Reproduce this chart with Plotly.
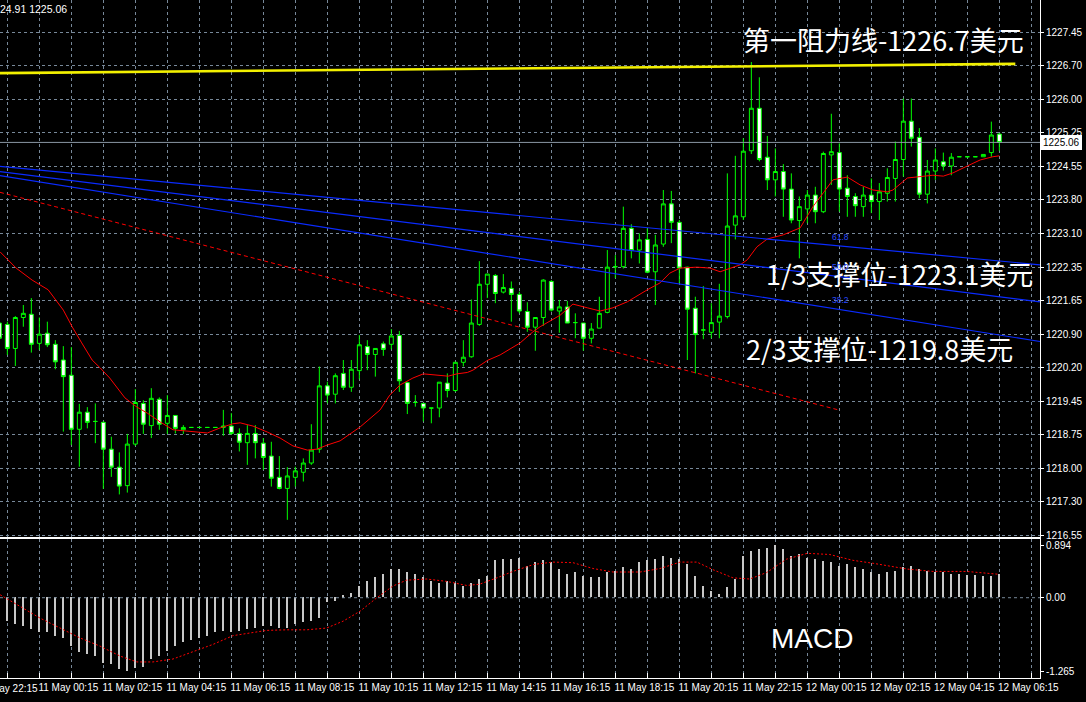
import plotly.graph_objects as go

# ---------------- data ----------------
bars = list(range(-1, 125))  # M15 bars, 10 May 23:00 ... 12 May 06:15

opens = [
    1221.15, 1221.12, 1220.60, 1221.27, 1221.34, 1220.71, 1220.93, 1220.69, 1220.35, 1220.02,
    1218.85, 1219.22, 1219.02, 1219.00, 1218.42, 1218.03, 1217.63, 1218.53, 1219.41, 1218.93,
    1219.50, 1218.98, 1219.15, 1218.84, 1218.89, 1218.89, 1218.89, 1218.89, 1218.89, 1218.92,
    1218.76, 1218.56, 1218.76, 1218.55, 1218.27, 1217.81, 1217.57, 1217.81, 1217.92, 1218.12,
    1218.42, 1219.79, 1219.61, 1220.06, 1219.76, 1220.12, 1220.64, 1220.47, 1220.70, 1220.69,
    1220.88, 1219.86, 1219.43, 1219.41, 1219.31, 1219.31, 1219.85, 1219.69, 1220.30, 1220.42,
    1221.12, 1221.99, 1222.18, 1221.82, 1221.90, 1221.77, 1221.40, 1221.06, 1221.27, 1222.05,
    1221.41, 1221.50, 1221.16, 1221.15, 1220.82, 1221.04, 1221.38, 1222.37, 1222.37, 1223.20,
    1222.73, 1222.96, 1222.26, 1222.86, 1223.73, 1223.33, 1222.36, 1221.47, 1221.00, 1220.95,
    1221.17, 1221.29, 1223.27, 1223.45, 1224.88, 1225.80, 1224.74, 1224.25, 1224.43, 1224.05,
    1223.37, 1223.62, 1223.92, 1223.56, 1224.79, 1224.84, 1224.07, 1223.89, 1223.67, 1223.92,
    1223.78, 1223.96, 1224.28, 1224.69, 1225.52, 1225.17, 1223.94, 1224.44, 1224.64, 1224.55,
    1224.75, 1224.75, 1224.75, 1224.75, 1224.84, 1225.24,
]
highs = [
    1221.45, 1221.18, 1221.30, 1221.54, 1221.69, 1221.27, 1221.18, 1220.78, 1220.65, 1220.63,
    1219.40, 1219.33, 1219.41, 1219.02, 1218.69, 1218.35, 1218.75, 1219.72, 1219.48, 1219.74,
    1219.54, 1219.59, 1219.15, 1218.94, 1218.89, 1218.89, 1218.89, 1218.89, 1219.27, 1219.20,
    1218.87, 1218.94, 1218.94, 1218.66, 1218.58, 1218.27, 1218.03, 1218.04, 1218.22, 1218.96,
    1220.21, 1219.88, 1220.06, 1220.35, 1220.35, 1220.89, 1220.78, 1220.60, 1220.75, 1221.02,
    1220.98, 1219.88, 1219.59, 1219.41, 1219.31, 1219.87, 1220.06, 1220.31, 1220.78, 1221.66,
    1222.49, 1222.21, 1222.21, 1222.21, 1222.05, 1221.83, 1221.60, 1221.27, 1222.10, 1222.08,
    1221.65, 1221.63, 1221.36, 1221.15, 1221.15, 1221.72, 1222.73, 1222.62, 1223.67, 1223.29,
    1223.09, 1223.20, 1223.06, 1224.03, 1224.01, 1223.38, 1222.37, 1221.72, 1221.95, 1221.58,
    1222.00, 1224.39, 1224.77, 1225.15, 1226.80, 1226.47, 1225.20, 1224.93, 1224.59, 1224.39,
    1223.89, 1224.03, 1224.10, 1224.86, 1225.68, 1225.04, 1224.35, 1223.96, 1224.10, 1224.28,
    1224.18, 1224.50, 1225.08, 1226.01, 1226.01, 1225.37, 1224.68, 1224.93, 1224.84, 1224.83,
    1224.75, 1224.75, 1224.75, 1224.80, 1225.51, 1225.26,
]
lows = [
    1220.55, 1220.46, 1220.22, 1221.07, 1220.51, 1220.57, 1220.63, 1220.15, 1218.80, 1218.51,
    1218.04, 1218.87, 1218.55, 1217.56, 1217.82, 1217.44, 1217.48, 1218.49, 1218.75, 1218.66,
    1218.84, 1218.75, 1218.76, 1218.75, 1218.89, 1218.89, 1218.89, 1218.89, 1218.71, 1218.73,
    1218.37, 1218.08, 1218.22, 1217.97, 1217.61, 1217.55, 1216.89, 1217.61, 1217.72, 1218.08,
    1218.34, 1219.41, 1219.41, 1219.70, 1219.66, 1219.93, 1220.13, 1219.99, 1220.44, 1220.58,
    1219.66, 1219.18, 1219.34, 1219.02, 1218.98, 1219.11, 1219.54, 1219.66, 1220.21, 1220.40,
    1221.09, 1221.69, 1221.58, 1221.79, 1221.18, 1221.36, 1220.96, 1220.55, 1221.09, 1221.40,
    1220.94, 1221.15, 1220.82, 1220.55, 1220.71, 1221.04, 1221.36, 1222.12, 1222.33, 1222.55,
    1222.44, 1222.23, 1221.54, 1222.80, 1222.88, 1222.01, 1220.35, 1220.06, 1220.80, 1220.82,
    1220.82, 1221.25, 1222.96, 1223.38, 1224.81, 1224.65, 1224.03, 1223.89, 1223.45, 1223.31,
    1222.55, 1223.31, 1223.31, 1223.53, 1224.14, 1223.56, 1223.45, 1223.45, 1223.45, 1223.53,
    1223.38, 1223.78, 1223.78, 1224.32, 1224.97, 1223.85, 1223.74, 1224.25, 1224.45, 1224.35,
    1224.75, 1224.75, 1224.75, 1224.75, 1224.75, 1224.88,
]
closes = [
    1220.82, 1220.60, 1221.27, 1221.36, 1220.69, 1220.91, 1220.68, 1220.31, 1219.99, 1218.85,
    1219.22, 1219.00, 1219.02, 1218.42, 1218.03, 1217.62, 1218.53, 1219.43, 1218.96, 1219.52,
    1218.96, 1219.15, 1218.87, 1218.89, 1218.89, 1218.89, 1218.89, 1218.89, 1218.92, 1218.76,
    1218.57, 1218.76, 1218.56, 1218.24, 1217.79, 1217.57, 1217.84, 1217.95, 1218.12, 1218.40,
    1219.79, 1219.59, 1220.01, 1219.76, 1220.15, 1220.68, 1220.47, 1220.60, 1220.58, 1220.87,
    1219.90, 1219.41, 1219.43, 1219.31, 1219.31, 1219.87, 1219.69, 1220.30, 1220.41, 1221.15,
    1221.99, 1222.21, 1221.79, 1221.92, 1221.77, 1221.41, 1221.06, 1221.27, 1222.08, 1221.43,
    1221.50, 1221.15, 1221.16, 1220.82, 1221.02, 1221.36, 1222.36, 1222.37, 1223.20, 1222.72,
    1222.95, 1222.25, 1222.84, 1223.73, 1223.33, 1222.34, 1221.45, 1220.90, 1221.00, 1221.16,
    1221.30, 1223.25, 1223.47, 1224.87, 1225.80, 1224.69, 1224.25, 1224.43, 1224.05, 1223.38,
    1223.67, 1223.92, 1223.56, 1224.82, 1224.86, 1224.05, 1223.89, 1223.69, 1223.92, 1223.78,
    1223.99, 1224.30, 1224.69, 1225.52, 1225.15, 1223.94, 1224.44, 1224.68, 1224.55, 1224.74,
    1224.75, 1224.75, 1224.75, 1224.80, 1225.22, 1225.06,
]

# moving average (red line) read at bar positions
ma_points = [
    (-0.9, 1222.69), (1.1, 1222.34), (3.1, 1222.08), (5.1, 1221.87), (7.0, 1221.43), (8.1, 1221.07),
    (9.3, 1220.72), (10.6, 1220.35), (11.6, 1220.18), (12.8, 1219.96), (14.7, 1219.53), (16.2, 1219.33),
    (17.5, 1219.20), (19.1, 1219.01), (20.7, 1218.84), (23.2, 1218.79), (25.0, 1218.77), (26.6, 1218.88),
    (28.2, 1218.97), (29.1, 1218.99), (30.7, 1218.92), (32.5, 1218.79), (34.1, 1218.66), (35.7, 1218.49),
    (37.5, 1218.40), (38.7, 1218.42), (40.0, 1218.51), (41.6, 1218.60), (44.1, 1218.90), (46.6, 1219.27),
    (47.8, 1219.59), (49.1, 1219.81), (50.7, 1219.96), (52.0, 1220.05), (53.2, 1220.03), (55.1, 1220.00),
    (56.2, 1220.05), (57.5, 1220.08), (58.2, 1220.13), (60.0, 1220.34), (61.6, 1220.46), (64.1, 1220.72),
    (65.7, 1220.96), (66.6, 1221.07), (69.1, 1221.32), (70.7, 1221.56), (72.5, 1221.48), (74.1, 1221.41),
    (75.7, 1221.48), (77.5, 1221.61), (80.0, 1221.87), (81.6, 1222.02), (82.8, 1222.23), (84.1, 1222.34),
    (86.2, 1222.36), (87.8, 1222.34), (89.1, 1222.26), (90.0, 1222.32), (91.6, 1222.41), (92.5, 1222.52),
    (93.7, 1222.80), (95.0, 1222.97), (97.0, 1223.06), (99.1, 1223.21), (100.7, 1223.67), (102.0, 1223.97),
    (103.2, 1224.25), (105.0, 1224.31), (106.6, 1224.14), (108.2, 1224.03), (110.0, 1223.99), (110.7, 1224.03),
    (112.5, 1224.29), (114.1, 1224.32), (115.7, 1224.35), (117.0, 1224.33), (118.2, 1224.40), (120.0, 1224.55),
    (121.6, 1224.68), (123.2, 1224.75), (124.0, 1224.77),
]

# chart objects (trend lines), endpoints in bar index / price
resistance_x = [-0.92, 126.0]
resistance_y = [1226.56, 1226.76]
fan_x = [-0.92, 129.08]
fan_618 = [1224.54, 1222.41]
fan_500 = [1224.43, 1221.61]
fan_382 = [1224.34, 1220.75]
trend_x = [-0.92, 104.1]
trend_y = [1223.98, 1219.26]
bid_price = 1225.06

# MACD histogram (one value per bar) and signal line
macd_hist = [
    -0.38, -0.40, -0.46, -0.49, -0.55, -0.60, -0.60, -0.66, -0.69, -0.83,
    -0.94, -0.97, -1.00, -1.12, -1.14, -1.23, -1.265, -1.22, -1.20, -1.06,
    -1.00, -0.92, -0.83, -0.77, -0.74, -0.69, -0.66, -0.60, -0.57, -0.60,
    -0.57, -0.55, -0.52, -0.49, -0.49, -0.52, -0.52, -0.46, -0.43, -0.40,
    -0.35, -0.09, -0.06, 0.03, 0.08, 0.20, 0.28, 0.34, 0.40, 0.48,
    0.48, 0.43, 0.40, 0.34, 0.28, 0.25, 0.28, 0.25, 0.20, 0.25,
    0.31, 0.37, 0.63, 0.65, 0.66, 0.68, 0.54, 0.60, 0.63, 0.60,
    0.48, 0.40, 0.43, 0.37, 0.34, 0.34, 0.43, 0.45, 0.51, 0.48,
    0.60, 0.63, 0.65, 0.70, 0.68, 0.65, 0.57, 0.37, 0.20, 0.11,
    0.05, 0.17, 0.31, 0.71, 0.80, 0.82, 0.85, 0.894, 0.82, 0.71,
    0.74, 0.68, 0.65, 0.62, 0.60, 0.54, 0.57, 0.51, 0.48, 0.43,
    0.40, 0.43, 0.45, 0.51, 0.54, 0.48, 0.45, 0.43, 0.43, 0.40,
    0.40, 0.38, 0.38, 0.37, 0.37, 0.40,
]
signal_points = [
    (-0.9, 0.05), (1.6, -0.15), (4.1, -0.35), (6.6, -0.52), (9.1, -0.69), (11.6, -0.83),
    (14.1, -1.00), (16.2, -1.10), (18.2, -1.10), (20.7, -1.05), (23.2, -0.93), (25.7, -0.80),
    (28.2, -0.65), (30.3, -0.60), (32.4, -0.56), (34.9, -0.55), (37.4, -0.55), (39.9, -0.52),
    (42.0, -0.40), (44.1, -0.23), (46.2, 0.00), (48.2, 0.20), (49.9, 0.30), (52.4, 0.32),
    (54.9, 0.28), (57.4, 0.21), (59.0, 0.23), (61.2, 0.34), (63.2, 0.45), (65.8, 0.57),
    (68.2, 0.61), (70.7, 0.60), (73.2, 0.50), (75.7, 0.44), (79.1, 0.44), (81.6, 0.50),
    (84.1, 0.61), (86.2, 0.61), (88.2, 0.48), (90.7, 0.34), (92.8, 0.32), (94.9, 0.43),
    (97.4, 0.66), (100.0, 0.76), (102.8, 0.74), (105.7, 0.64), (108.2, 0.59), (112.5, 0.49),
    (115.7, 0.45), (119.9, 0.45), (124.0, 0.40),
]

# axis ticks
price_tickvals = [1216.55, 1217.277, 1218.003, 1218.73, 1219.457, 1220.183, 1220.91, 1221.637,
                  1222.363, 1223.09, 1223.817, 1224.543, 1225.27, 1225.997, 1226.723, 1227.45]
price_ticktext = ["1216.55", "1217.30", "1218.00", "1218.75", "1219.45", "1220.20", "1220.90", "1221.65",
                  "1222.35", "1223.10", "1223.80", "1224.55", "1225.25", "1226.00", "1226.70", "1227.45"]
time_tick_bars = [4, 12, 20, 28, 36, 44, 52, 60, 68, 76, 84, 92, 100, 108, 116, 124]
time_tick_labels = ["11 May 00:15", "11 May 02:15", "11 May 04:15", "11 May 06:15",
                    "11 May 08:15", "11 May 10:15", "11 May 12:15", "11 May 14:15",
                    "11 May 16:15", "11 May 18:15", "11 May 20:15", "11 May 22:15",
                    "12 May 00:15", "12 May 02:15", "12 May 04:15", "12 May 06:15"]
first_label = "10 May 22:15"
macd_tickvals = [0.894, 0.0, -1.265]
macd_ticktext = ["0.894", "0.00", "-1.265"]

# ---------------- styling ----------------
GRID = "#778899"
GREEN = "#00ff00"
AXFONT = dict(family="Liberation Sans, Arial, sans-serif", size=10, color="white")
CJK = "Noto Sans CJK SC, Noto Sans, sans-serif"

XR = [-0.9167, 129.083]

fig = go.Figure()

fig.add_trace(go.Candlestick(
    x=bars, open=opens, high=highs, low=lows, close=closes,
    increasing=dict(line=dict(color=GREEN, width=1), fillcolor="black"),
    decreasing=dict(line=dict(color=GREEN, width=1), fillcolor="white"),
    whiskerwidth=0, xaxis="x", yaxis="y", showlegend=False, hoverinfo="skip",
))

fig.add_trace(go.Scatter(x=[p[0] for p in ma_points], y=[p[1] for p in ma_points],
                         mode="lines", line=dict(color="#ff0000", width=1),
                         xaxis="x", yaxis="y", hoverinfo="skip"))

fig.add_trace(go.Scatter(x=trend_x, y=trend_y, mode="lines",
                         line=dict(color="#ff0000", width=1, dash="4px,3px"),
                         xaxis="x", yaxis="y", hoverinfo="skip"))

for ys in (fan_618, fan_500, fan_382):
    fig.add_trace(go.Scatter(x=fan_x, y=ys, mode="lines",
                             line=dict(color="#0a2bff", width=1.2),
                             xaxis="x", yaxis="y", hoverinfo="skip"))

fig.add_trace(go.Scatter(x=resistance_x, y=resistance_y, mode="lines",
                         line=dict(color="#f2f000", width=2.6),
                         xaxis="x", yaxis="y", hoverinfo="skip"))

# MACD
fig.add_trace(go.Bar(x=bars, y=macd_hist, width=0.16,
                     marker=dict(color="#c8c8c8", line=dict(width=0)),
                     xaxis="x2", yaxis="y2", hoverinfo="skip"))
fig.add_trace(go.Scatter(x=[p[0] for p in signal_points], y=[p[1] for p in signal_points],
                         mode="lines", line=dict(color="#ff0000", width=1, dash="2px,2px"),
                         xaxis="x2", yaxis="y2", hoverinfo="skip"))

# bid line and zero line
fig.add_shape(type="line", xref="x domain", x0=0, x1=1, yref="y", y0=bid_price, y1=bid_price,
              line=dict(color="#8a96a3", width=1))
fig.add_shape(type="line", xref="x2 domain", x0=0, x1=1, yref="y2", y0=0, y1=0,
              line=dict(color=GRID, width=1, dash="3px,3px"))

main_dom = [0.2080, 1.0]
macd_dom = [0.0, 0.2043]

fig.update_layout(
    width=1086, height=702,
    paper_bgcolor="black", plot_bgcolor="black",
    margin=dict(l=0, r=46, t=0, b=24),
    showlegend=False,
    bargap=0,
    xaxis=dict(domain=[0, 1], anchor="y", range=XR,
               tickmode="array", tickvals=list(range(0, 130, 4)), showticklabels=False, ticks="",
               showgrid=True, gridcolor=GRID, gridwidth=1, griddash="3px,3px",
               zeroline=False, showline=True, linecolor="white", linewidth=1,
               rangeslider=dict(visible=False)),
    yaxis=dict(domain=main_dom, anchor="x", side="right", range=[1216.519, 1228.143],
               tickmode="array", tickvals=price_tickvals, ticktext=price_ticktext,
               showgrid=True, gridcolor=GRID, gridwidth=1, griddash="3px,3px",
               ticks="outside", ticklen=3, tickcolor="white", tickfont=AXFONT,
               showline=True, linecolor="white", linewidth=1, zeroline=False),
    xaxis2=dict(domain=[0, 1], anchor="y2", matches="x", range=XR,
                tickmode="array", tickvals=time_tick_bars, ticktext=time_tick_labels,
                ticks="inside", ticklen=5, tickcolor="white", tickfont=AXFONT,
                ticklabelshift=29,
                showgrid=True, gridcolor=GRID, gridwidth=1, griddash="3px,3px",
                minor=dict(tickmode="array", tickvals=list(range(0, 130, 4)), ticks="inside",
                           ticklen=5, tickcolor="white", showgrid=True, gridcolor=GRID,
                           griddash="3px,3px"),
                zeroline=False, showline=True, mirror=True, linecolor="white", linewidth=1),
    yaxis2=dict(domain=macd_dom, anchor="x2", side="right", range=[-1.375, 0.997],
                tickmode="array", tickvals=macd_tickvals, ticktext=macd_ticktext,
                showgrid=False, zeroline=False,
                ticks="outside", ticklen=3, tickcolor="white", tickfont=AXFONT,
                showline=True, linecolor="white", linewidth=1),
)

# text annotations
def txt(x, y, s, size=27, color="white", family=CJK, xref="paper", yref="paper"):
    fig.add_annotation(x=x, y=y, xref=xref, yref=yref, text=s, showarrow=False,
                       xanchor="left", yanchor="middle",
                       font=dict(family=family, size=size, color=color))

txt(0.7125, 1 - 40 / 678, "第一阻力线-1226.7美元")
txt(0.7346, 1 - 273 / 678, "1/3支撑位-1223.1美元")
txt(0.7153, 1 - 348 / 678, "2/3支撑位-1219.8美元")
txt(0.7394, 1 - 638 / 678, "MACD", size=28, family="Liberation Sans, Arial, sans-serif")

FIBF = "Liberation Sans, Arial, sans-serif"
txt(102.8, 1223.01, "61.8", size=8.5, color="#2a4bff", family=FIBF, xref="x", yref="y")
txt(102.8, 1222.36, "50.0", size=8.5, color="#2a4bff", family=FIBF, xref="x", yref="y")
txt(102.8, 1221.65, "38.2", size=8.5, color="#2a4bff", family=FIBF, xref="x", yref="y")

txt(-0.002, 1 - 9 / 678, "24.91 1225.06", size=10.5, family=FIBF)

# clipped first time label (its tick lies just left of the visible area)
fig.add_annotation(x=-0.0245, y=-10 / 678, xref="paper", yref="paper", text=first_label,
                   showarrow=False, xanchor="left", yanchor="middle", font=AXFONT)

# current price box on the price scale
fig.add_annotation(x=1.0, xref="paper", y=bid_price, yref="y", text=str(bid_price),
                   showarrow=False, xanchor="left", yanchor="middle", xshift=1,
                   bgcolor="white", bordercolor="white", borderpad=1,
                   font=dict(family="Liberation Sans, Arial, sans-serif", size=10, color="black"))

fig.write_html("out.html", config={"displayModeBar": False},
               post_script="document.body.style.margin='0';document.body.style.overflow='hidden';")
